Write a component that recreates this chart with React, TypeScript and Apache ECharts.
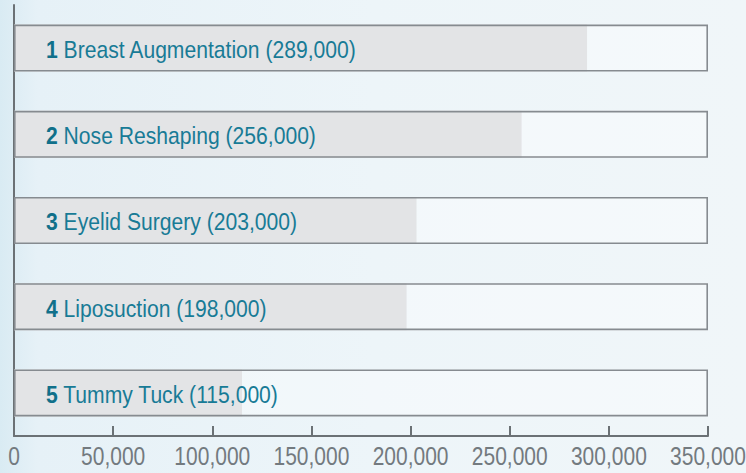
import React, { useEffect, useRef } from "react";
import * as echarts from "echarts";

const categories = ["Breast Augmentation", "Nose Reshaping", "Eyelid Surgery", "Liposuction", "Tummy Tuck"];
const values = [289000, 256000, 203000, 198000, 115000];
const axisMax = 350000;
const tickStep = 50000;
const tickValues = [0, 50000, 100000, 150000, 200000, 250000, 300000, 350000];

const FONT = "'Liberation Sans', Arial, sans-serif";

const fmt = (v: number) => v.toLocaleString("en-US");

export default function App() {
  const ref = useRef<HTMLDivElement>(null);
  useEffect(() => {
    document.body.style.margin = "0";
    const chart = echarts.init(ref.current!, null, { renderer: "svg" });
    chart.setOption({
      animation: false,
      backgroundColor: {
        type: "linear", x: 0, y: 0, x2: 1, y2: 0,
        colorStops: [
          { offset: 0, color: "#d9ebf3" },
          { offset: 0.05, color: "#e6f1f7" },
          { offset: 0.5, color: "#edf5f9" },
          { offset: 1, color: "#f0f6f9" },
        ],
      },
      grid: { left: 14, right: 38, top: 5, bottom: 37 },
      xAxis: {
        type: "value",
        min: 0,
        max: axisMax,
        interval: tickStep,
        splitLine: { show: false },
        axisLine: { show: true, lineStyle: { color: "#6b7175", width: 2 } },
        axisTick: { show: true, inside: true, length: 10, lineStyle: { color: "#6b7175", width: 2 } },
        axisLabel: { show: false },
      },
      yAxis: {
        type: "category",
        data: categories,
        inverse: true,
        axisLine: { show: true, lineStyle: { color: "#6b7175", width: 2 } },
        axisTick: { show: false },
        axisLabel: { show: false },
        splitLine: { show: false },
      },
      series: [
        {
          type: "bar",
          data: values.map(() => axisMax),
          barWidth: 47,
          barGap: "-100%",
          itemStyle: { color: "rgba(255,255,255,0.35)" },
          silent: true,
          z: 1,
        },
        {
          type: "bar",
          data: values,
          barWidth: 47,
          barGap: "-100%",
          itemStyle: { color: "#e3e4e6" },
          z: 2,
        },
        {
          type: "bar",
          data: values.map(() => axisMax),
          barWidth: 47,
          barGap: "-100%",
          itemStyle: { color: "rgba(0,0,0,0)", borderColor: "#868b90", borderWidth: 1.6 },
          silent: true,
          z: 3,
        },
      ],
    });

    const graphics: any[] = [];
    categories.forEach((c, i) => {
      const p = chart.convertToPixel({ seriesIndex: 1 }, [0, i]) as number[];
      graphics.push({
        type: "text",
        x: p[0] + 32,
        y: p[1] + 2,
        scaleX: 0.88,
        z: 10,
        style: {
          text: `{n|${i + 1}}{t| ${c} (${fmt(values[i])})}`,
          verticalAlign: "middle",
          align: "left",
          rich: {
            n: { fontFamily: FONT, fontSize: 24, fontWeight: "bold", fill: "#11708a" },
            t: { fontFamily: FONT, fontSize: 24, fill: "#187b96" },
          },
        },
      });
    });
    tickValues.forEach((v) => {
      const p = chart.convertToPixel({ seriesIndex: 1 }, [v, 4]) as number[];
      graphics.push({
        type: "text",
        x: p[0],
        y: 456,
        scaleX: 0.84,
        z: 10,
        style: {
          text: fmt(v),
          align: "center",
          verticalAlign: "middle",
          fontFamily: FONT,
          fontSize: 25,
          fill: "#737a7f",
        },
      });
    });
    chart.setOption({ graphic: graphics });
    return () => chart.dispose();
  }, []);
  return <div ref={ref} style={{ width: 746, height: 473 }} />;
}
